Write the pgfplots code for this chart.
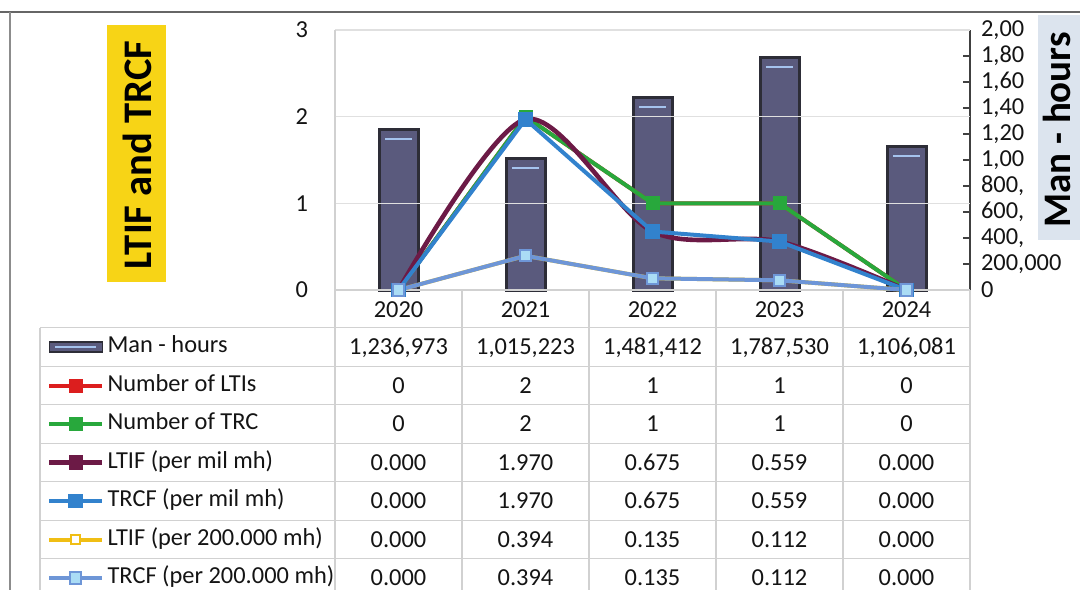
\documentclass[border=0pt]{standalone}
\usepackage{fontspec}
\setmainfont{Carlito}
\usepackage{pgfplots}
\usepackage{pgfplotstable}
\pgfplotsset{compat=1.18}
\definecolor{barfill}{RGB}{90,90,125}
\definecolor{barborder}{RGB}{45,45,55}
\definecolor{barhl}{RGB}{165,195,238}
\definecolor{cred}{RGB}{220,30,30}
\definecolor{cgreen}{RGB}{40,168,60}
\definecolor{cmaroon}{RGB}{108,26,70}
\definecolor{cblue}{RGB}{50,130,205}
\definecolor{cyellow}{RGB}{240,190,20}
\definecolor{clblue}{RGB}{110,150,215}
\definecolor{clbfill}{RGB}{170,220,245}
\definecolor{titleyellow}{RGB}{247,212,22}
\definecolor{titleblue}{RGB}{220,228,238}
\definecolor{txt}{RGB}{20,20,20}

\pgfplotstableread{
i year mh ltis trc ltif trcf ltiftwo trcftwo
0 2020 1236973 0 0 0.000 0.000 0.000 0.000
1 2021 1015223 2 2 1.970 1.970 0.394 0.394
2 2022 1481412 1 1 0.675 0.675 0.135 0.135
3 2023 1787530 1 1 0.559 0.559 0.112 0.112
4 2024 1106081 0 0 0.000 0.000 0.000 0.000
}\datatable

\newcommand{\tfont}{\fontsize{12.2}{14}\selectfont}
\newcommand{\trow}[6]{%
  \node[tab] at (199.25pt,#1) {#2};
  \node[tab] at (262.75pt,#1) {#3};
  \node[tab] at (326.25pt,#1) {#4};
  \node[tab] at (389.75pt,#1) {#5};
  \node[tab] at (453.25pt,#1) {#6};}

\begin{document}
\begin{tikzpicture}[tab/.style={anchor=base, font=\tfont, inner sep=0pt, text=txt}]
\useasboundingbox (0pt,0pt) rectangle (540pt,295pt);
% outer frame lines
\draw[black!60, line width=1pt] (0pt,289pt) -- (540pt,289pt);
\draw[black!45, line width=1pt] (5pt,289pt) -- (5pt,0pt);
% titles
\fill[titleyellow] (53.5pt,154pt) rectangle (83pt,282.5pt);
\node[rotate=90, font=\fontsize{20.3}{24}\selectfont\bfseries, text=black] at (68.5pt,217.5pt) {LTIF and TRCF};
\fill[titleblue] (519pt,175pt) rectangle (545pt,287.5pt);
\node[rotate=90, font=\fontsize{19.5}{24}\selectfont\bfseries, text=black, inner sep=0pt] at (528.5pt,230pt) {Man - hours};
% table grid
\begin{scope}[black!18, line width=0.6pt]
  \foreach \y in {131.125,111.875,92.625,73.375,54.125,34.875,15.625} \draw (20pt,\y pt) -- (485pt,\y pt);
  \foreach \x in {167.5,231,294.5,358,421.5,485} \draw (\x pt,150pt) -- (\x pt,0pt);
  \draw (20pt,131.125pt) -- (20pt,0pt);
\end{scope}

% bars (right axis)
\begin{axis}[at={(167.5pt,150pt)}, anchor=south west, scale only axis,
  width=317.5pt, height=130pt, xmin=-0.5, xmax=4.5, ymin=0, ymax=2000000,
  axis x line=none, axis y line*=right,
  axis line style={draw=black!75, line width=0.8pt},
  ytick={0,200000,400000,600000,800000,1000000,1200000,1400000,1600000,1800000,2000000},
  yticklabels={0,{200,000},{400,},{600,},{800,},{1,00},{1,20},{1,40},{1,60},{1,80},{2,00}},
  scaled y ticks=false, tick align=inside, major tick length=3.5pt,
  ytick style={draw=black!75, line width=0.8pt},
  yticklabel style={anchor=west, xshift=2pt, font=\tfont, text=txt},
  clip=false]
\addplot[ybar, bar width=19.5pt, fill=barfill, draw=barborder, line width=1.5pt,
  nodes near coords={\relax},
  every node near coord/.append style={anchor=north, yshift=-3.5pt, fill=barhl, draw=none,
    inner sep=0pt, minimum width=13.5pt, minimum height=1.1pt, text height=0pt, text depth=0pt}]
  table[x=i, y=mh] {\datatable};
\end{axis}

% lines (left axis)
\begin{axis}[at={(167.5pt,150pt)}, anchor=south west, scale only axis,
  width=317.5pt, height=130pt, xmin=-0.5, xmax=4.5, ymin=0, ymax=3,
  axis x line*=bottom, axis y line*=left,
  axis line style={draw=black!18, line width=0.6pt, -},
  xtick={0,1,2,3,4}, xticklabels={2020,2021,2022,2023,2024},
  ytick={0,1,2,3}, yticklabels={0,1,2,3},
  major tick length=0pt,
  ymajorgrids, grid style={black!12, line width=0.6pt},
  ticklabel style={font=\tfont, text=txt},
  yticklabel style={xshift=-10pt},
  xticklabel style={anchor=center, yshift=-10pt},
  clip=false,
  legend cell align=left,
  legend style={at={(-0.453543,-0.145192)}, anchor=north west, draw=none, fill=none,
    inner sep=0pt, outer sep=0pt, row sep=0pt, column sep=1.5pt, font=\tfont, text=txt,
    nodes={inner sep=0pt, text height=12.5pt, text depth=6.75pt}},
  legend image code/.code={\draw[mark repeat=2,mark phase=2,#1] plot coordinates {(0pt,0pt)(13.25pt,0pt)(26.5pt,0pt)};}
  ]
\addlegendimage{legend image code/.code={\draw[fill=barfill,draw=barborder,line width=0.8pt] (0pt,-2.5pt) rectangle (26.5pt,2.5pt); \draw[barhl,line width=0.6pt] (3pt,0pt)--(23.5pt,0pt);}}
\addlegendentry{Man - hours}
\addplot[cred, line width=2pt, mark=square*, mark size=2.5pt, mark options={fill=cred}] table[x=i, y=ltis] {\datatable};
\addlegendentry{Number of LTIs}
\addplot[cgreen, line width=2pt, mark=square*, mark size=2.5pt, mark options={fill=cgreen}] table[x=i, y=trc] {\datatable};
\addlegendentry{Number of TRC}
\addplot[cmaroon, line width=2.3pt, smooth, mark=square*, mark size=2.5pt, mark options={fill=cmaroon}] table[x=i, y=ltif] {\datatable};
\addlegendentry{LTIF (per mil mh)}
\addplot[cblue, line width=2pt, mark=square*, mark size=2.7pt, mark options={fill=cblue}] table[x=i, y=trcf] {\datatable};
\addlegendentry{TRCF (per mil mh)}
\addplot[cyellow, line width=2pt, mark=square*, mark size=2.2pt, mark options={fill=white, draw=cyellow, line width=1pt}] table[x=i, y=ltiftwo] {\datatable};
\addlegendentry{LTIF (per 200.000 mh)}
\addplot[clblue, line width=2pt, mark=square*, mark size=2.8pt, mark options={fill=clbfill, draw=clblue, line width=1pt}] table[x=i, y=trcftwo] {\datatable};
\addlegendentry{TRCF (per 200.000 mh)}
\end{axis}

% table values
\trow{117.6pt}{1,236,973}{1,015,223}{1,481,412}{1,787,530}{1,106,081}
\trow{98.35pt}{0}{2}{1}{1}{0}
\trow{79.1pt}{0}{2}{1}{1}{0}
\trow{59.85pt}{0.000}{1.970}{0.675}{0.559}{0.000}
\trow{40.6pt}{0.000}{1.970}{0.675}{0.559}{0.000}
\trow{21.35pt}{0.000}{0.394}{0.135}{0.112}{0.000}
\trow{2.1pt}{0.000}{0.394}{0.135}{0.112}{0.000}
\end{tikzpicture}
\end{document}
